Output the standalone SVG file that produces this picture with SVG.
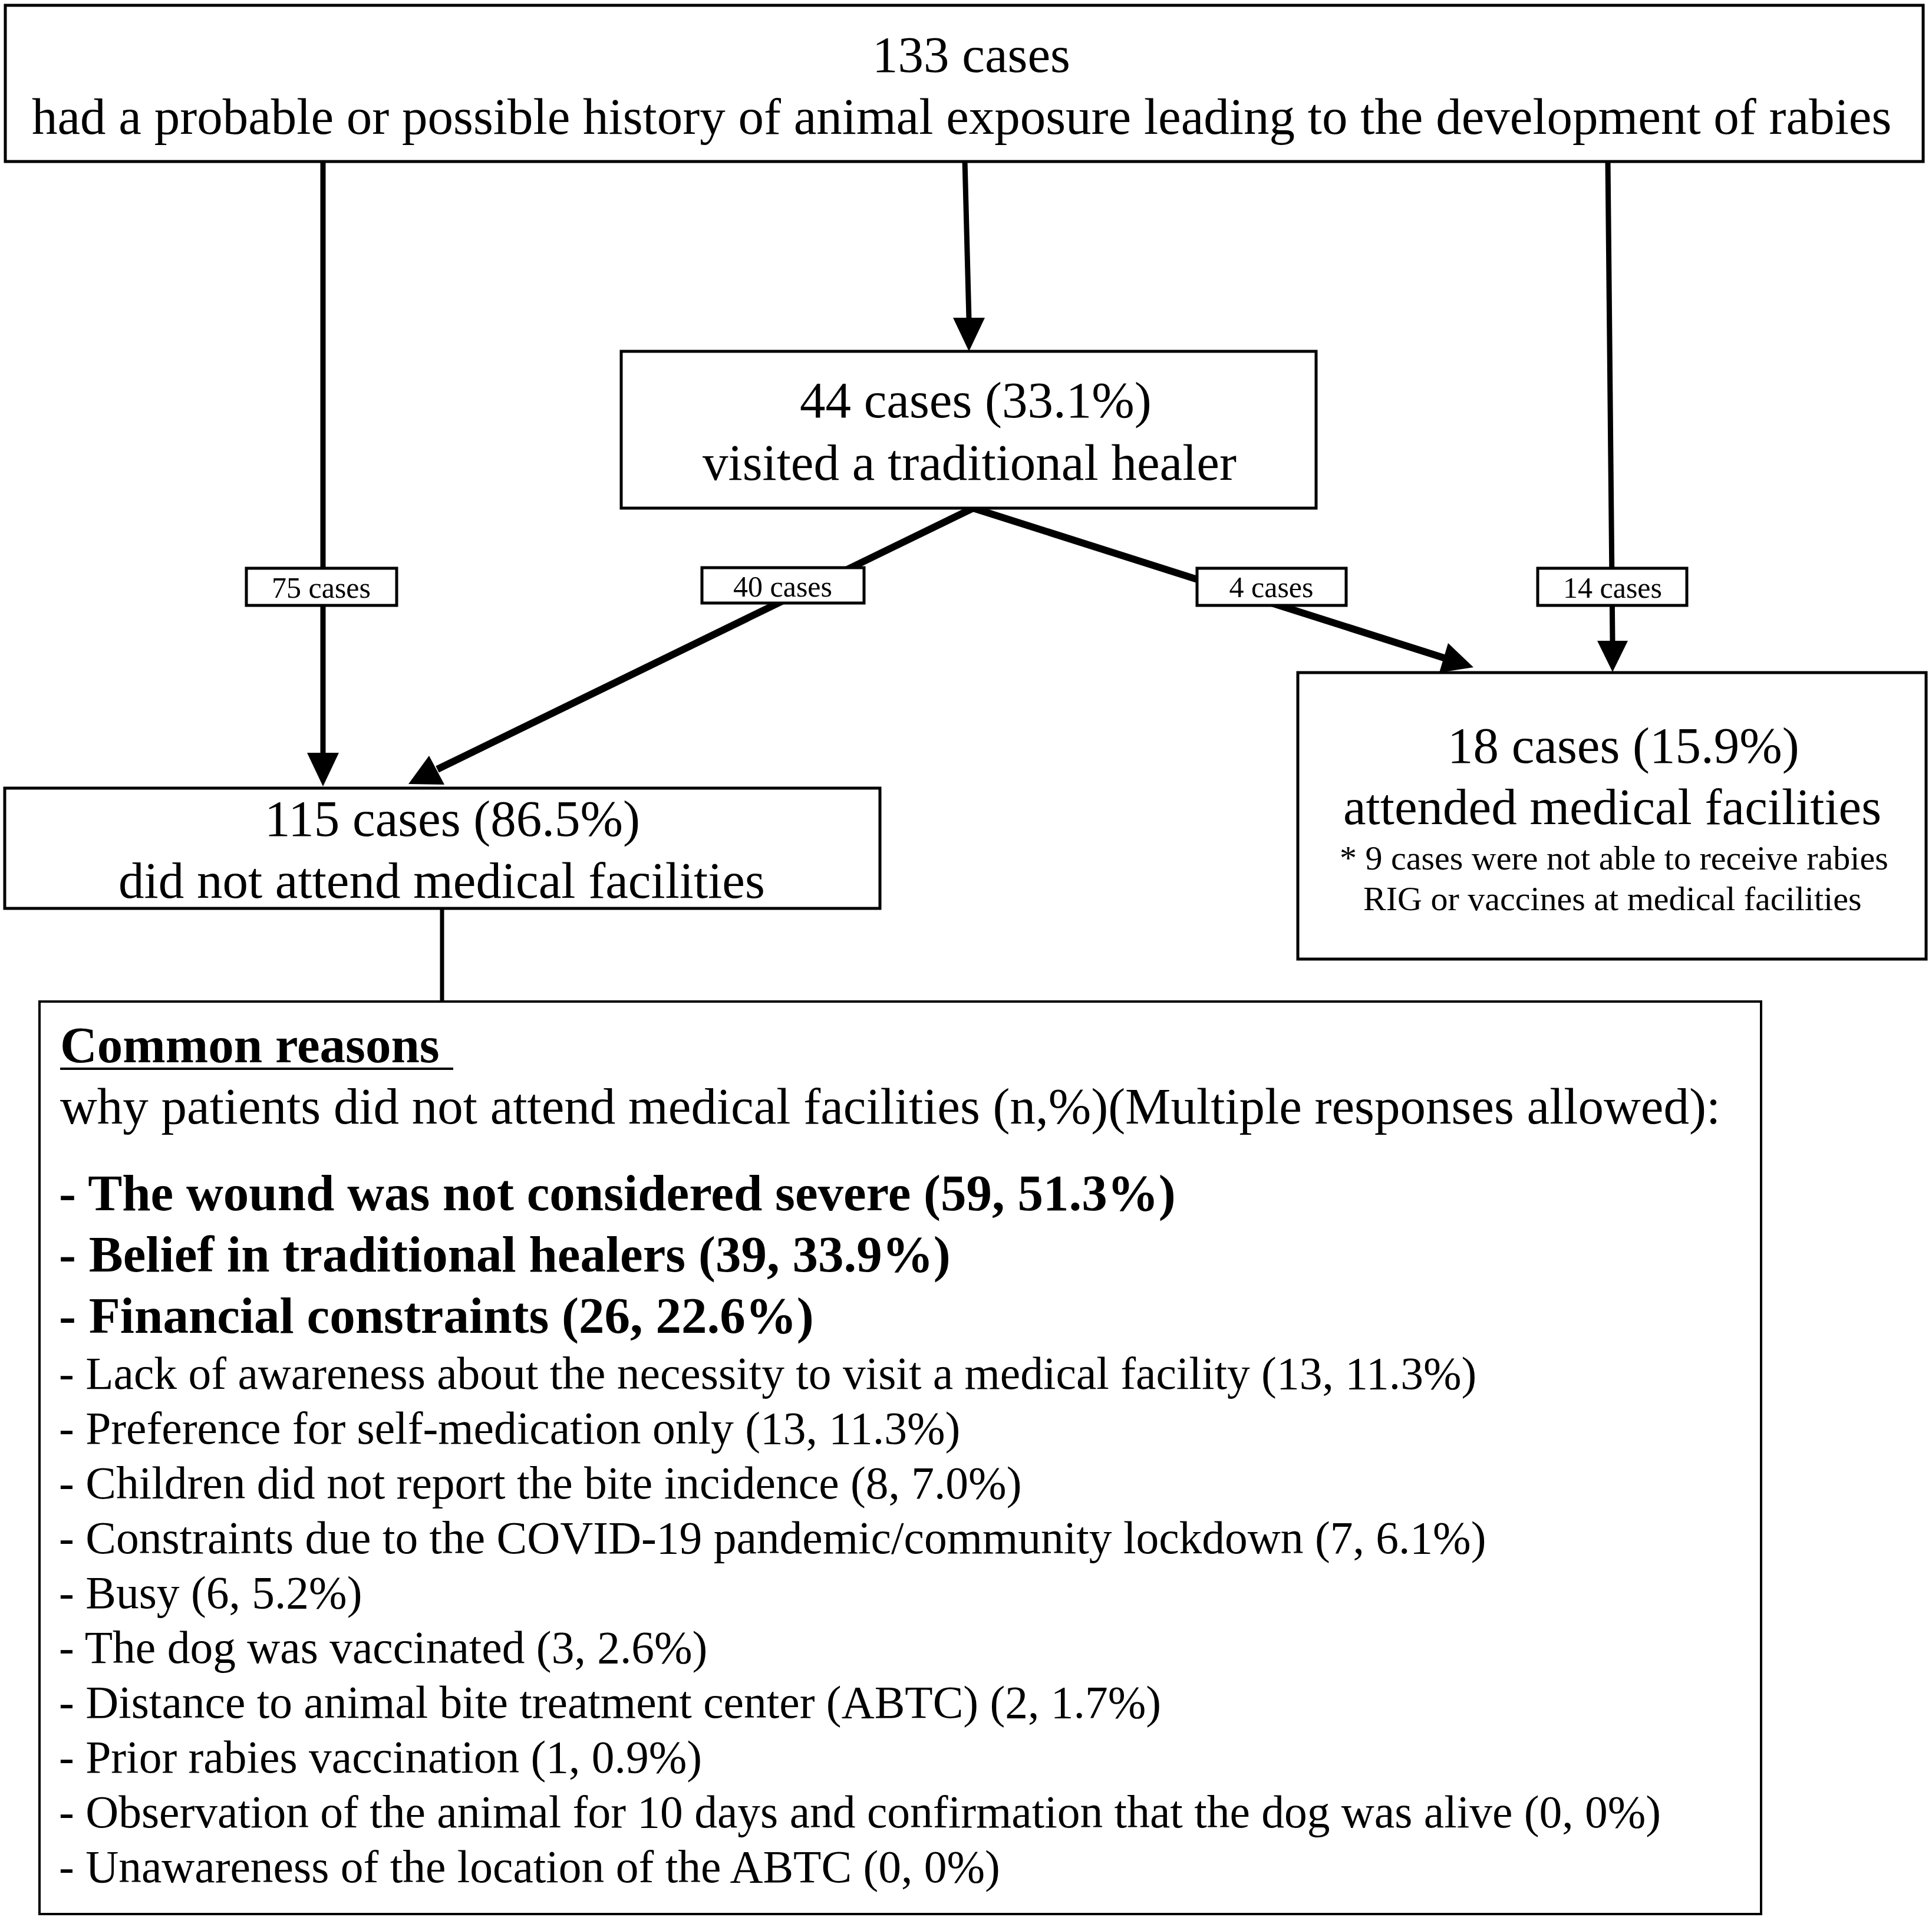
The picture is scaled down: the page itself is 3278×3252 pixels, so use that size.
<svg xmlns="http://www.w3.org/2000/svg" width="3278" height="3252" viewBox="0 0 3278 3252">
<style>
  .box { fill: #ffffff; stroke: #000000; stroke-width: 5; }
  .thin { fill: #ffffff; stroke: #000000; stroke-width: 4; }
  .conn { fill: none; stroke: #000000; stroke-width: 9; }
  .diag { fill: none; stroke: #000000; stroke-width: 12; stroke-linejoin: miter; }
  .head { fill: #000000; stroke: none; }
  text { font-family: "Liberation Serif", "Times New Roman", serif; fill: #000000; }
  .big { font-size: 87px; }
  .note { font-size: 58px; }
  .lab { font-size: 50px; }
  .bold { font-size: 87px; font-weight: bold; }
  .item { font-size: 77.5px; }
  .mid { text-anchor: middle; }
</style>
<rect x="0" y="0" width="3278" height="3252" fill="#ffffff"/>

<g id="connectors">
  <line class="conn" x1="548" y1="272" x2="548" y2="1280"/>
  <polygon class="head" points="521,1277 575,1277 548,1334"/>
  <line class="conn" x1="1637" y1="272" x2="1644" y2="542"/>
  <polygon class="head" points="1617,539 1671,539 1644,596"/>
  <line class="conn" x1="2728" y1="272" x2="2736" y2="1090"/>
  <polygon class="head" points="2710,1087 2762,1087 2736,1140"/>
  <polyline class="diag" points="742,1305 1651,862 2450,1116"/>
  <polygon class="head" points="693,1330 728,1282 754,1331"/>
  <polygon class="head" points="2500,1132 2457,1091 2442,1141"/>
  <line class="conn" x1="750" y1="1540" x2="750" y2="1700" style="stroke-width:7"/>
</g>

<g id="node-top">
  <rect class="box" x="9" y="9" width="3254" height="265"/>
  <text class="big mid" x="1648" y="122">133 cases</text>
  <text class="big" x="54" y="227">had a probable or possible history of animal exposure leading to the development of rabies</text>
</g>

<g id="node-healer">
  <rect class="box" x="1054" y="596" width="1179" height="266"/>
  <text class="big" x="1357" y="708">44 cases (33.1%)</text>
  <text class="big" x="1192" y="814">visited a traditional healer</text>
</g>

<g id="node-not-attend">
  <rect class="box" x="8" y="1337" width="1485" height="204"/>
  <text class="big" x="449" y="1418">115 cases (86.5%)</text>
  <text class="big" x="201" y="1523">did not attend medical facilities</text>
</g>

<g id="node-attend">
  <rect class="box" x="2202" y="1141" width="1066" height="486"/>
  <text class="big" x="2456" y="1294">18 cases (15.9%)</text>
  <text class="big" x="2279" y="1398">attended medical facilities</text>
  <text class="note" x="2273" y="1475">* 9 cases were not able to receive rabies</text>
  <text class="note" x="2313" y="1544">RIG or vaccines at medical facilities</text>
</g>

<g id="edge-labels">
  <g id="label-75">
    <rect class="box" x="418" y="964" width="255" height="63"/>
    <text class="lab mid" x="545" y="1014">75 cases</text>
  </g>
  <g id="label-40">
    <rect class="box" x="1191" y="963" width="275" height="60"/>
    <text class="lab mid" x="1328" y="1012">40 cases</text>
  </g>
  <g id="label-4">
    <rect class="box" x="2031" y="964" width="253" height="63"/>
    <text class="lab mid" x="2157" y="1013">4 cases</text>
  </g>
  <g id="label-14">
    <rect class="box" x="2609" y="964" width="253" height="63"/>
    <text class="lab mid" x="2736" y="1014">14 cases</text>
  </g>
</g>

<g id="node-reasons">
  <rect class="thin" x="67" y="1699" width="2921" height="1548"/>
  <text class="bold" x="102" y="1802">Common reasons</text>
  <line x1="102" y1="1813" x2="769" y2="1813" stroke="#000000" stroke-width="4"/>
  <text class="big" x="102" y="1906">why patients did not attend medical facilities (n,%)(Multiple responses allowed):</text>
  <text class="bold" x="100" y="2053">- The wound was not considered severe (59, 51.3%)</text>
  <text class="bold" x="100" y="2157">- Belief in traditional healers (39, 33.9%)</text>
  <text class="bold" x="100" y="2261">- Financial constraints (26, 22.6%)</text>
  <text class="item" x="100" y="2356">- Lack of awareness about the necessity to visit a medical facility (13, 11.3%)</text>
  <text class="item" x="100" y="2449">- Preference for self-medication only (13, 11.3%)</text>
  <text class="item" x="100" y="2542">- Children did not report the bite incidence (8, 7.0%)</text>
  <text class="item" x="100" y="2635">- Constraints due to the COVID-19 pandemic/community lockdown (7, 6.1%)</text>
  <text class="item" x="100" y="2728">- Busy (6, 5.2%)</text>
  <text class="item" x="100" y="2821">- The dog was vaccinated (3, 2.6%)</text>
  <text class="item" x="100" y="2914">- Distance to animal bite treatment center (ABTC) (2, 1.7%)</text>
  <text class="item" x="100" y="3007">- Prior rabies vaccination (1, 0.9%)</text>
  <text class="item" x="100" y="3100">- Observation of the animal for 10 days and confirmation that the dog was alive (0, 0%)</text>
  <text class="item" x="100" y="3193">- Unawareness of the location of the ABTC (0, 0%)</text>
</g>
</svg>
